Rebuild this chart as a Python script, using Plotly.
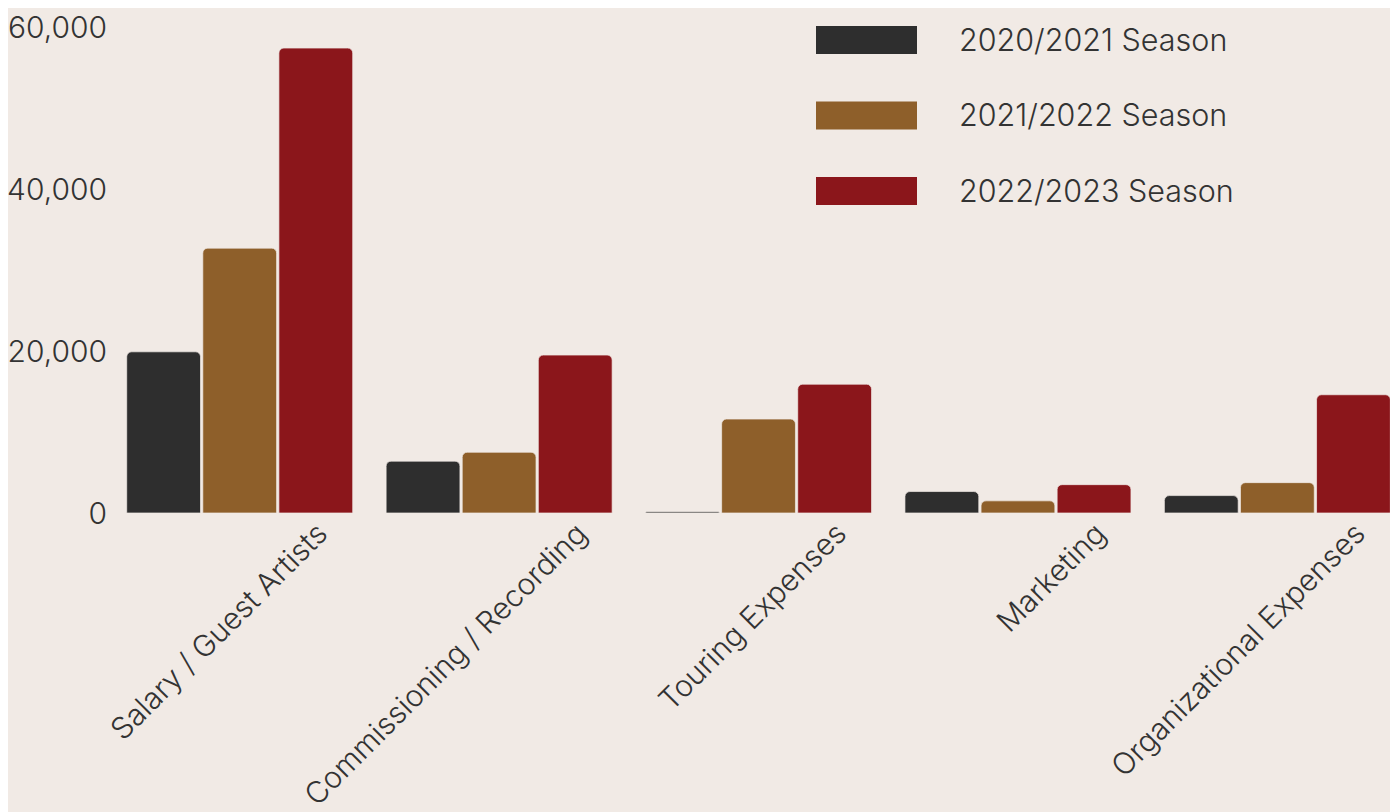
import plotly.graph_objects as go

categories = ["Salary / Guest Artists", "Commissioning / Recording", "Touring Expenses",
              "Marketing", "Organizational Expenses"]
season_names = ["2020/2021 Season", "2021/2022 Season", "2022/2023 Season"]
values_2020_2021 = [19900, 6400, 150, 2650, 2150]
values_2021_2022 = [32700, 7500, 11600, 1500, 3750]
values_2022_2023 = [57400, 19500, 15900, 3500, 14600]
colors = ["#2e2e2e", "#8e5f2a", "#8b161b"]
y_ticks = [0, 20000, 40000, 60000]

BG = "#f1eae5"
TXT = "#333333"
FONT = "Inter"

fig = go.Figure()
for name, vals, col in zip(season_names, [values_2020_2021, values_2021_2022, values_2022_2023], colors):
    fig.add_trace(go.Bar(
        x=categories, y=vals, name=name,
        marker=dict(color=col, line=dict(color="rgba(241,234,229,0.7)", width=1)),
        showlegend=False,
    ))

# page offset (body margin) and plot area geometry in figure pixels
OFF = 8
W, H = 1390, 804
ml, mr, mt, mb = 102, 0, 19, 299
pw, ph = W - ml - mr, H - mt - mb

def px_x(p):  # screen x -> paper
    return (p - OFF - ml) / pw

def px_y(p):  # screen y -> paper
    return (H - mb - (p - OFF)) / ph

shapes = []
annotations = []
for i, (name, col) in enumerate(zip(season_names, colors)):
    top = 26 + i * 75.5
    shapes.append(dict(type="rect", xref="paper", yref="paper",
                       x0=px_x(816), x1=px_x(917), y0=px_y(top + 28), y1=px_y(top),
                       fillcolor=col, line=dict(width=0)))
    annotations.append(dict(xref="paper", yref="paper", x=px_x(957), y=px_y(top + 13),
                            text=name, showarrow=False, xanchor="left", yanchor="middle",
                            font=dict(family=FONT, size=30.5, color=TXT, weight=300)))

fig.update_layout(
    width=W, height=H,
    margin=dict(l=ml, r=mr, t=mt, b=mb, pad=0),
    paper_bgcolor=BG, plot_bgcolor=BG,
    barmode="group", bargap=0.12, bargroupgap=0.03,
    barcornerradius=5,
    font=dict(family=FONT, size=30, color=TXT, weight=300),
    shapes=shapes, annotations=annotations,
    xaxis=dict(range=[-0.5, 4.465], showgrid=False, zeroline=False, showline=False,
               automargin=False,
               tickangle=-45, ticklabelshift=79, ticklabelstandoff=-4,
               tickfont=dict(size=30, weight=300)),
    yaxis=dict(range=[0, 60000], tickvals=y_ticks, tickformat=",", showgrid=False,
               automargin=False,
               zeroline=False, showline=False, ticks="", ticklabelstandoff=2,
               tickfont=dict(size=30, weight=300)),
)

fig.write_html("out.html")
